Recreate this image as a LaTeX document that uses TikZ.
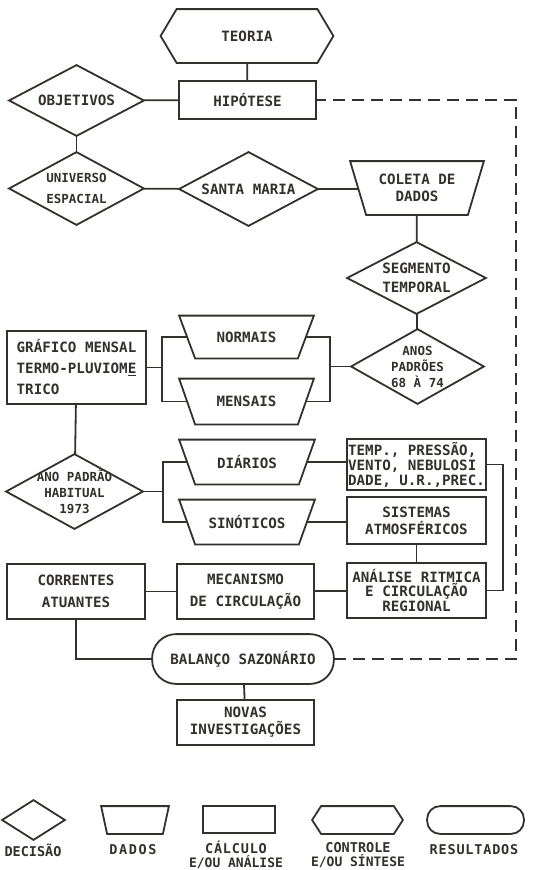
\documentclass[tikz,border=0pt]{standalone}
\usepackage{fontspec}
\usetikzlibrary{calc}
\newfontfamily\datilo{DejaVu Sans Mono}
\definecolor{tinta}{RGB}{52,48,45}

\tikzset{
	traco/.style={line width=1.8pt, draw=tinta},
	every node/.style={font=\datilo\bfseries\fontsize{14.2}{17}\selectfont, text=tinta, inner sep=0pt, align=center},
	miuda/.style={font=\datilo\bfseries\fontsize{12.5}{16}\selectfont},
	legenda/.style={font=\datilo\bfseries\fontsize{13.5}{14}\selectfont},
	calculo/.style={rectangle, append after command={\pgfextra{\draw[traco] (\tikzlastnode.north west) rectangle (\tikzlastnode.south east);}}},
	resultados/.style={rectangle, append after command={\pgfextra{\draw[traco, rounded corners=#1] (\tikzlastnode.north west) rectangle (\tikzlastnode.south east);}}},
	resultados/.default=24pt,
	decisao/.style={rectangle, append after command={\pgfextra{\draw[traco] (\tikzlastnode.north) -- (\tikzlastnode.east) -- (\tikzlastnode.south) -- (\tikzlastnode.west) -- cycle;}}},
	dados/.style={rectangle, append after command={\pgfextra{\draw[traco] ([xshift=-#1]\tikzlastnode.north west) -- ([xshift=#1]\tikzlastnode.north east) -- ([xshift=-#1]\tikzlastnode.south east) -- ([xshift=#1]\tikzlastnode.south west) -- cycle;}}},
	dados/.default=8pt,
	controle/.style={rectangle, append after command={\pgfextra{\draw[traco] ([xshift=#1]\tikzlastnode.north west) -- ([xshift=-#1]\tikzlastnode.north east) -- (\tikzlastnode.east) -- ([xshift=-#1]\tikzlastnode.south east) -- ([xshift=#1]\tikzlastnode.south west) -- (\tikzlastnode.west) -- cycle;}}},
	controle/.default=16pt,
}

\begin{document}
\begin{tikzpicture}[x=1pt, y=1pt, traco]
		\useasboundingbox[fill=white] (0,0) rectangle (547,-870);
		% fluxograma
		\node[controle, minimum width=171, minimum height=52] (teoria) at (247,-36) {TEORIA};
		\node[calculo, minimum width=135, minimum height=36] (hipotese) at (247.5,-100) {HIPÓTESE};
		\node[decisao, minimum width=133, minimum height=69] (objetivos) at (76.5,-100.5) {OBJETIVOS};
		\node[decisao, miuda, minimum width=133, minimum height=71] (universo) at (76.5,-188.5) {UNIVERSO\\[5pt]ESPACIAL};
		\node[decisao, minimum width=137, minimum height=72] (santamaria) at (248.5,-189) {SANTA MARIA};
		\node[dados, minimum width=116, minimum height=52] (coleta) at (417,-188) {COLETA DE\\DADOS};
		\node[decisao, minimum width=137, minimum height=70] (segmento) at (416.5,-278) {SEGMENTO\\[2pt]TEMPORAL};
		\node[decisao, miuda, minimum width=131, minimum height=73] (anos) at (417.5,-366.5) {ANOS\\PADRÕES\\68 À 74};
		\node[dados, minimum width=117, minimum height=41] (normais) at (246.5,-337) {NORMAIS};
		\node[dados, minimum width=117, minimum height=44] (mensais) at (246.5,-401.5) {MENSAIS};
		\node[calculo, align=left, minimum width=137, minimum height=71, font=\datilo\bfseries\fontsize{14.2}{21}\selectfont] (grafico) at (76.5,-367.5) {GRÁFICO MENSAL\\TERMO-PLUVIOM\underline{E}\\TRICO};
		\node[decisao, miuda, minimum width=135, minimum height=73] (anopadrao) at (74.5,-491.5) {ANO PADRÃO\\HABITUAL\\1973};
		\node[dados, minimum width=118, minimum height=43] (diarios) at (247,-462) {DIÁRIOS};
		\node[dados, minimum width=118, minimum height=43] (sinoticos) at (247,-522) {SINÓTICOS};
		\node[calculo, align=left, minimum width=137, minimum height=49, font=\datilo\bfseries\fontsize{14.2}{15}\selectfont] (temp) at (416.5,-464.5) {TEMP., PRESSÃO,\\VENTO, NEBULOSI\\DADE, U.R.,PREC.};
		\node[calculo, minimum width=137, minimum height=45] (sistemas) at (416.5,-520.5) {SISTEMAS\\ATMOSFÉRICOS};
		\node[calculo, minimum width=137, minimum height=53, font=\datilo\bfseries\fontsize{14.2}{14.5}\selectfont] (analise) at (416.5,-590.5) {ANÁLISE RITMICA\\E CIRCULAÇÃO\\REGIONAL};
		\node[calculo, minimum width=135, minimum height=53, font=\datilo\bfseries\fontsize{14.2}{22}\selectfont] (mecanismo) at (245.5,-591.5) {MECANISMO\\DE CIRCULAÇÃO};
		\node[calculo, minimum width=136, minimum height=53, font=\datilo\bfseries\fontsize{14.2}{22}\selectfont] (correntes) at (76,-591.5) {CORRENTES\\ATUANTES};
		\node[resultados, minimum width=180, minimum height=48] (balanco) at (243,-659) {BALANÇO SAZONÁRIO};
		\node[calculo, minimum width=135, minimum height=43] (novas) at (245.5,-722.5) {NOVAS\\INVESTIGAÇÕES};
		\coordinate (chaveG) at ([xshift=16]grafico.east);
		\coordinate (chaveA) at ([xshift=-21]anos.west);
		\coordinate (chaveD) at ([xshift=20]anopadrao.east);
		\coordinate (chaveT) at ([xshift=17]temp.east);
		\coordinate (retorno) at (516,-380);
		\draw (teoria) -- (hipotese);
		\draw (objetivos) -- (hipotese);
		\draw (objetivos) -- (universo);
		\draw (universo) -- (santamaria);
		\draw (santamaria.east) -- (santamaria.east -| coleta.west);
		\draw (coleta) -- (segmento);
		\draw (segmento) -- (anos);
		\draw (grafico.east) -- (chaveG);
		\draw (normais.west) -| (chaveG) |- (mensais.west);
		\draw (normais.east) -| (chaveA) |- (mensais.east);
		\draw (chaveA) -- (anos.west);
		\draw (grafico) -- (anopadrao);
		\draw (anopadrao.east) -- (chaveD);
		\draw (diarios.west) -| (chaveD) |- (sinoticos.west);
		\draw (diarios.east) -- (diarios.east -| temp.west);
		\draw (sinoticos.east) -- (sinoticos.east -| sistemas.west);
		\draw (sistemas) -- (analise);
		\draw (temp.east) -- (chaveT) |- (analise.east);
		\draw (analise) -- (mecanismo);
		\draw (mecanismo) -- (correntes);
		\draw (correntes.south) |- (balanco.west);
		\draw (balanco) -- (novas);
		\draw[dash pattern=on 12pt off 7pt] (balanco.east) -| (retorno) |- (hipotese.east);
		% legenda
		\node[decisao, minimum width=61, minimum height=38] (legdecisao) at (33.5,-820) {};
		\node[dados=3pt, minimum width=60, minimum height=26] (legdados) at (135,-820) {};
		\node[calculo, minimum width=70, minimum height=25] (legcalculo) at (239,-819.5) {};
		\node[controle=9pt, minimum width=89, minimum height=26] (legcontrole) at (357.5,-820) {};
		\node[resultados=13pt, minimum width=95, minimum height=26] (legresultados) at (475.5,-820) {};
		\node[legenda] (txtdecisao) at (33,-850) {DECISÃO};
		\node[legenda] (txtdados) at (133,-850) {\addfontfeature{LetterSpace=12}DADOS};
		\node[legenda] (txtcalculo) at (236,-855) {\addfontfeature{LetterSpace=6}CÁLCULO\\\fontsize{13}{14}\selectfont E/OU ANÁLISE};
		\node[legenda] (txtcontrole) at (358,-855) {CONTROLE\\\fontsize{13}{14}\selectfont E/OU SÍNTESE};
		\node[legenda] (txtresultados) at (474,-850) {\addfontfeature{LetterSpace=6}RESULTADOS};
	\end{tikzpicture}
\end{document}
